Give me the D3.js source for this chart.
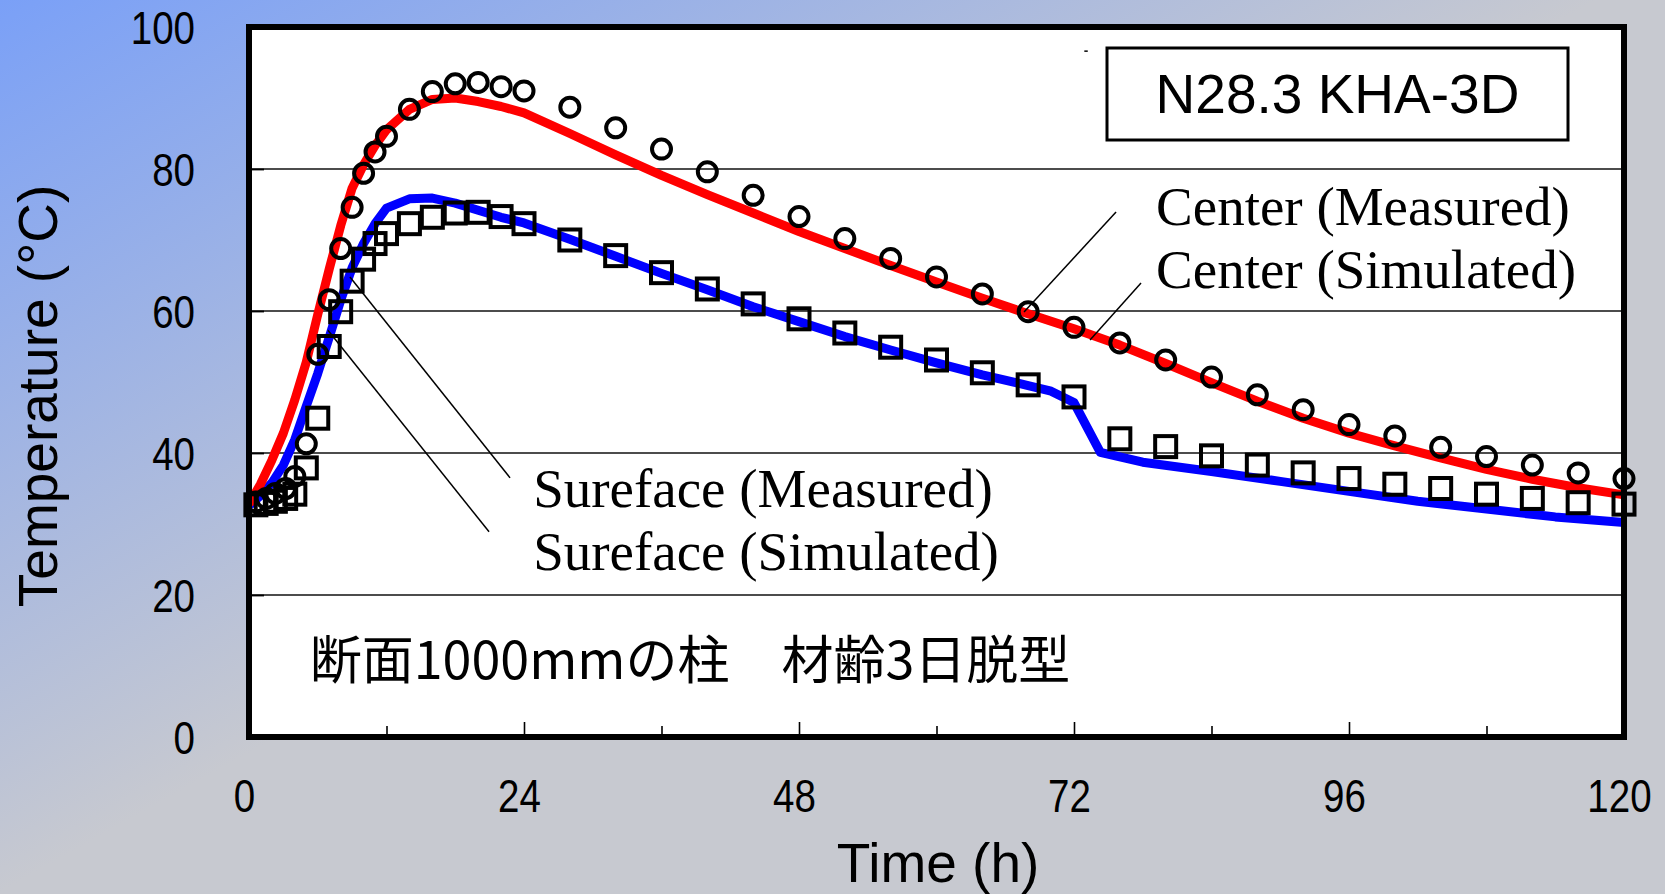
<!DOCTYPE html>
<html><head><meta charset="utf-8">
<script src="https://cdn.jsdelivr.net/npm/d3@7"></script>
<style>html,body{margin:0;padding:0;overflow:hidden;background:#c7c9d0}svg{display:block}</style>
</head><body>
<svg id="chart" width="1665" height="894"></svg>
<script>
// ---------- data ----------
const measuredTimes = [0.6,1.5,2.3,3.2,4,5,6,7,8,9,10,11,12,14,16,18,20,22,24,28,32,36,40,44,48,52,56,60,64,68,72,76,80,84,88,92,96,100,104,108,112,116,120];
const centerMeasured = [33.1,33.6,34.3,35.0,36.7,41.3,53.9,61.6,68.8,74.6,79.4,82.4,84.6,88.4,90.9,92.0,92.2,91.6,91.0,88.7,85.8,82.8,79.6,76.3,73.3,70.2,67.4,64.8,62.4,59.9,57.7,55.5,53.1,50.7,48.2,46.1,44.0,42.4,40.8,39.5,38.3,37.2,36.4];
const surfaceMeasured = [32.7,32.9,33.2,33.6,34.2,37.9,44.9,55.0,59.9,64.2,67.3,69.5,70.9,72.3,73.2,73.8,73.9,73.3,72.3,70.0,67.8,65.4,63.1,61.0,58.9,56.9,54.9,53.1,51.3,49.6,47.9,42.0,40.9,39.6,38.3,37.2,36.4,35.6,35.0,34.2,33.6,33.0,32.8];
const centerSimTimes = [0,1,2,3,4,5,6,7,8,9,10,11,12,14,16,18,20,22,24,28,32,36,40,44,48,52,56,60,64,68,72,76,80,84,88,92,96,100,104,108,112,116,120];
const centerSimulated = [32.8,35.6,39.0,42.8,47.5,52.8,59.5,65.9,72.0,77.3,80.6,83.3,85.5,88.4,89.8,90.0,89.5,88.8,87.9,85.0,82.0,79.1,76.4,73.8,71.2,68.8,66.4,64.1,61.8,59.6,57.5,55.2,52.6,49.9,47.3,44.9,42.8,41.0,39.3,37.7,36.3,35.1,34.1];
const surfaceSimTimes = [0,1,2,3,4,5,6,7,8,9,10,11,12,14,16,18,20,22,24,28,32,36,40,44,48,52,56,60,64,68,70,72,74.3,78,84,90,96,102,108,114,120];
const surfaceSimulated = [32.6,34.0,35.8,38.3,41.9,46.6,51.2,56.3,61.5,66.1,69.5,72.3,74.5,75.8,75.9,75.2,74.2,73.2,72.4,70.1,67.7,65.3,63.0,60.6,58.5,56.4,54.5,52.7,51.0,49.5,48.7,47.1,40.1,38.7,37.4,36.0,34.6,33.2,32.1,31.0,30.2];
const xTickLabels = [0,24,48,72,96,120];
const xMinorTicks = [12,36,60,84,108];
const yTickLabels = [0,20,40,60,80,100];
const gridValues = [20,40,60,80];
const chartTitle = "N28.3 KHA-3D";
const xTitle = "Time (h)";
const yTitle = "Temperature (°C)";
const noteText = "断面1000mmの柱\u3000材齢3日脱型";
// annotation labels (data units: time h, temperature °C)
const centerLabels = ["Center (Measured)", "Center (Simulated)"];
const surfaceLabels = ["Sureface (Measured)", "Sureface (Simulated)"];
const leaderLines = [
  [[67.64,59.86],[75.67,73.94]],
  [[73.4,55.9],[77.85,63.94]],
  [[8.81,64.8],[22.78,36.5]],
  [[6.89,57.3],[20.95,28.9]]
];

// ---------- layout ----------
const W = 1665, H = 894;
const plot = {left: 249, right: 1624, top: 27, bottom: 737};
const svg = d3.select("#chart");

const defs = svg.append("defs");
const grad = defs.append("linearGradient").attr("id","bg")
  .attr("gradientUnits","userSpaceOnUse")
  .attr("x1",0).attr("y1",0).attr("x2",380).attr("y2",680);
grad.append("stop").attr("offset","0").attr("stop-color","#7aa0f7");
grad.append("stop").attr("offset","1").attr("stop-color","#c7c9d0");
svg.append("rect").attr("width",W).attr("height",H).attr("fill","url(#bg)");

const x = d3.scaleLinear().domain([0,120]).range([plot.left, plot.right]);
const y = d3.scaleLinear().domain([0,100]).range([plot.bottom, plot.top]);

svg.append("rect").attr("x",x(0)).attr("y",y(100))
  .attr("width",x(120)-x(0)).attr("height",y(0)-y(100)).attr("fill","#fff");

// gridlines
svg.append("g").selectAll("line").data(gridValues).join("line")
  .attr("x1",x(0)).attr("x2",x(120)).attr("y1",d=>y(d)).attr("y2",d=>y(d))
  .attr("stroke","#111").attr("stroke-width",1.4);

const numFont = "'Liberation Sans Narrow','Arial Narrow','Liberation Sans',Arial,sans-serif";

// x axis (inner ticks)
const gx = svg.append("g").attr("transform",`translate(0,${y(0)})`)
  .call(d3.axisBottom(x).tickValues(xTickLabels).tickSize(-15).tickFormat(d3.format("d")));
gx.select(".domain").remove();
gx.selectAll(".tick line").attr("stroke","#000").attr("stroke-width",1.6);
gx.selectAll(".tick text").attr("x",null).attr("y",null).attr("dy",null)
  .attr("transform","translate(-5,75)")
  .attr("font-family",numFont).attr("font-size",47).attr("fill","#000").attr("text-anchor","middle");
const gxm = svg.append("g").attr("transform",`translate(0,${y(0)})`)
  .call(d3.axisBottom(x).tickValues(xMinorTicks).tickSize(-11).tickFormat(""));
gxm.select(".domain").remove();
gxm.selectAll(".tick line").attr("stroke","#000").attr("stroke-width",1.6);

// y axis (inner ticks)
const gy = svg.append("g").attr("transform",`translate(${x(0)},0)`)
  .call(d3.axisLeft(y).tickValues(yTickLabels).tickSize(-15).tickFormat(d3.format("d")));
gy.select(".domain").remove();
gy.selectAll(".tick line").attr("stroke","#000").attr("stroke-width",1.8);
gy.selectAll(".tick text").attr("x",null).attr("dy",null)
  .attr("transform","translate(-54,16.5)")
  .attr("font-family",numFont).attr("font-size",47).attr("fill","#000").attr("text-anchor","end");

// narrow check: if a narrow face is not installed, squeeze horizontally
(function(){
  const t = svg.append("text").attr("font-family",numFont).attr("font-size",47).text("100");
  const w = t.node().getComputedTextLength();
  t.remove();
  if (w > 72) {
    const k = 0.82;
    gx.selectAll(".tick text").attr("transform",`translate(-5,75) scale(${k},1)`);
    gy.selectAll(".tick text").attr("transform",`translate(-54,16.5) scale(${k},1)`);
  }
})();

// simulated lines
const line = d3.line().x(d=>x(d[0])).y(d=>y(d[1]));
svg.append("path").datum(surfaceSimTimes.map((t,i)=>[t,surfaceSimulated[i]]))
  .attr("d",line).attr("fill","none").attr("stroke","#0000ff").attr("stroke-width",9).attr("stroke-linejoin","round");
svg.append("path").datum(centerSimTimes.map((t,i)=>[t,centerSimulated[i]]))
  .attr("d",line).attr("fill","none").attr("stroke","#ff0000").attr("stroke-width",9).attr("stroke-linejoin","round");

// leader lines
svg.append("g").selectAll("line").data(leaderLines).join("line")
  .attr("x1",d=>x(d[0][0])).attr("y1",d=>y(d[0][1]))
  .attr("x2",d=>x(d[1][0])).attr("y2",d=>y(d[1][1]))
  .attr("stroke","#000").attr("stroke-width",1.5);

// measured markers
const sq = 21;
svg.append("g").selectAll("rect").data(measuredTimes.map((t,i)=>[t,surfaceMeasured[i]])).join("rect")
  .attr("x",d=>x(d[0])-sq/2).attr("y",d=>y(d[1])-sq/2).attr("width",sq).attr("height",sq)
  .attr("fill","none").attr("stroke","#000").attr("stroke-width",4);
svg.append("g").selectAll("circle").data(measuredTimes.map((t,i)=>[t,centerMeasured[i]])).join("circle")
  .attr("cx",d=>x(d[0])).attr("cy",d=>y(d[1])).attr("r",9.5)
  .attr("fill","none").attr("stroke","#000").attr("stroke-width",4);

// frame
svg.append("rect").attr("x",x(0)).attr("y",y(100))
  .attr("width",x(120)-x(0)).attr("height",y(0)-y(100))
  .attr("fill","none").attr("stroke","#000").attr("stroke-width",6);

// title box
svg.append("rect").attr("x",1107).attr("y",48).attr("width",461).attr("height",92)
  .attr("fill","#fff").attr("stroke","#000").attr("stroke-width",3);
svg.append("text").attr("x",1337.5).attr("y",113).attr("text-anchor","middle")
  .attr("font-family","'Liberation Sans',Arial,sans-serif").attr("font-size",55).attr("fill","#000")
  .text(chartTitle);
svg.append("line").attr("x1",x(72.9)).attr("x2",x(73.2)).attr("y1",y(96.6)).attr("y2",y(96.6))
  .attr("stroke","#000").attr("stroke-width",1.5);

// annotation labels
const serif = "'Liberation Serif','Times New Roman',serif";
svg.append("g").selectAll("text").data(centerLabels).join("text")
  .attr("x",x(79.16)).attr("y",(d,i)=>y(72.1)+i*63)
  .attr("font-family",serif).attr("font-size",55).attr("fill","#000").text(d=>d);
svg.append("g").selectAll("text").data(surfaceLabels).join("text")
  .attr("x",x(24.8)).attr("y",(d,i)=>y(32.4)+i*63)
  .attr("font-family",serif).attr("font-size",55).attr("fill","#000").text(d=>d);

svg.append("text").attr("x",x(5.3)).attr("y",y(8.1))
  .attr("font-family","'Noto Sans CJK JP','Noto Sans CJK SC',sans-serif").attr("font-size",52).attr("fill","#000")
  .text(noteText);

// axis titles
svg.append("text").attr("x",938).attr("y",882).attr("text-anchor","middle")
  .attr("font-family","'Liberation Sans',Arial,sans-serif").attr("font-size",55).attr("fill","#000").text(xTitle);
svg.append("text").attr("transform","translate(57,396) rotate(-90)").attr("text-anchor","middle")
  .attr("font-family","'Liberation Sans',Arial,sans-serif").attr("font-size",55).attr("fill","#000").text(yTitle);
</script>
</body></html>
